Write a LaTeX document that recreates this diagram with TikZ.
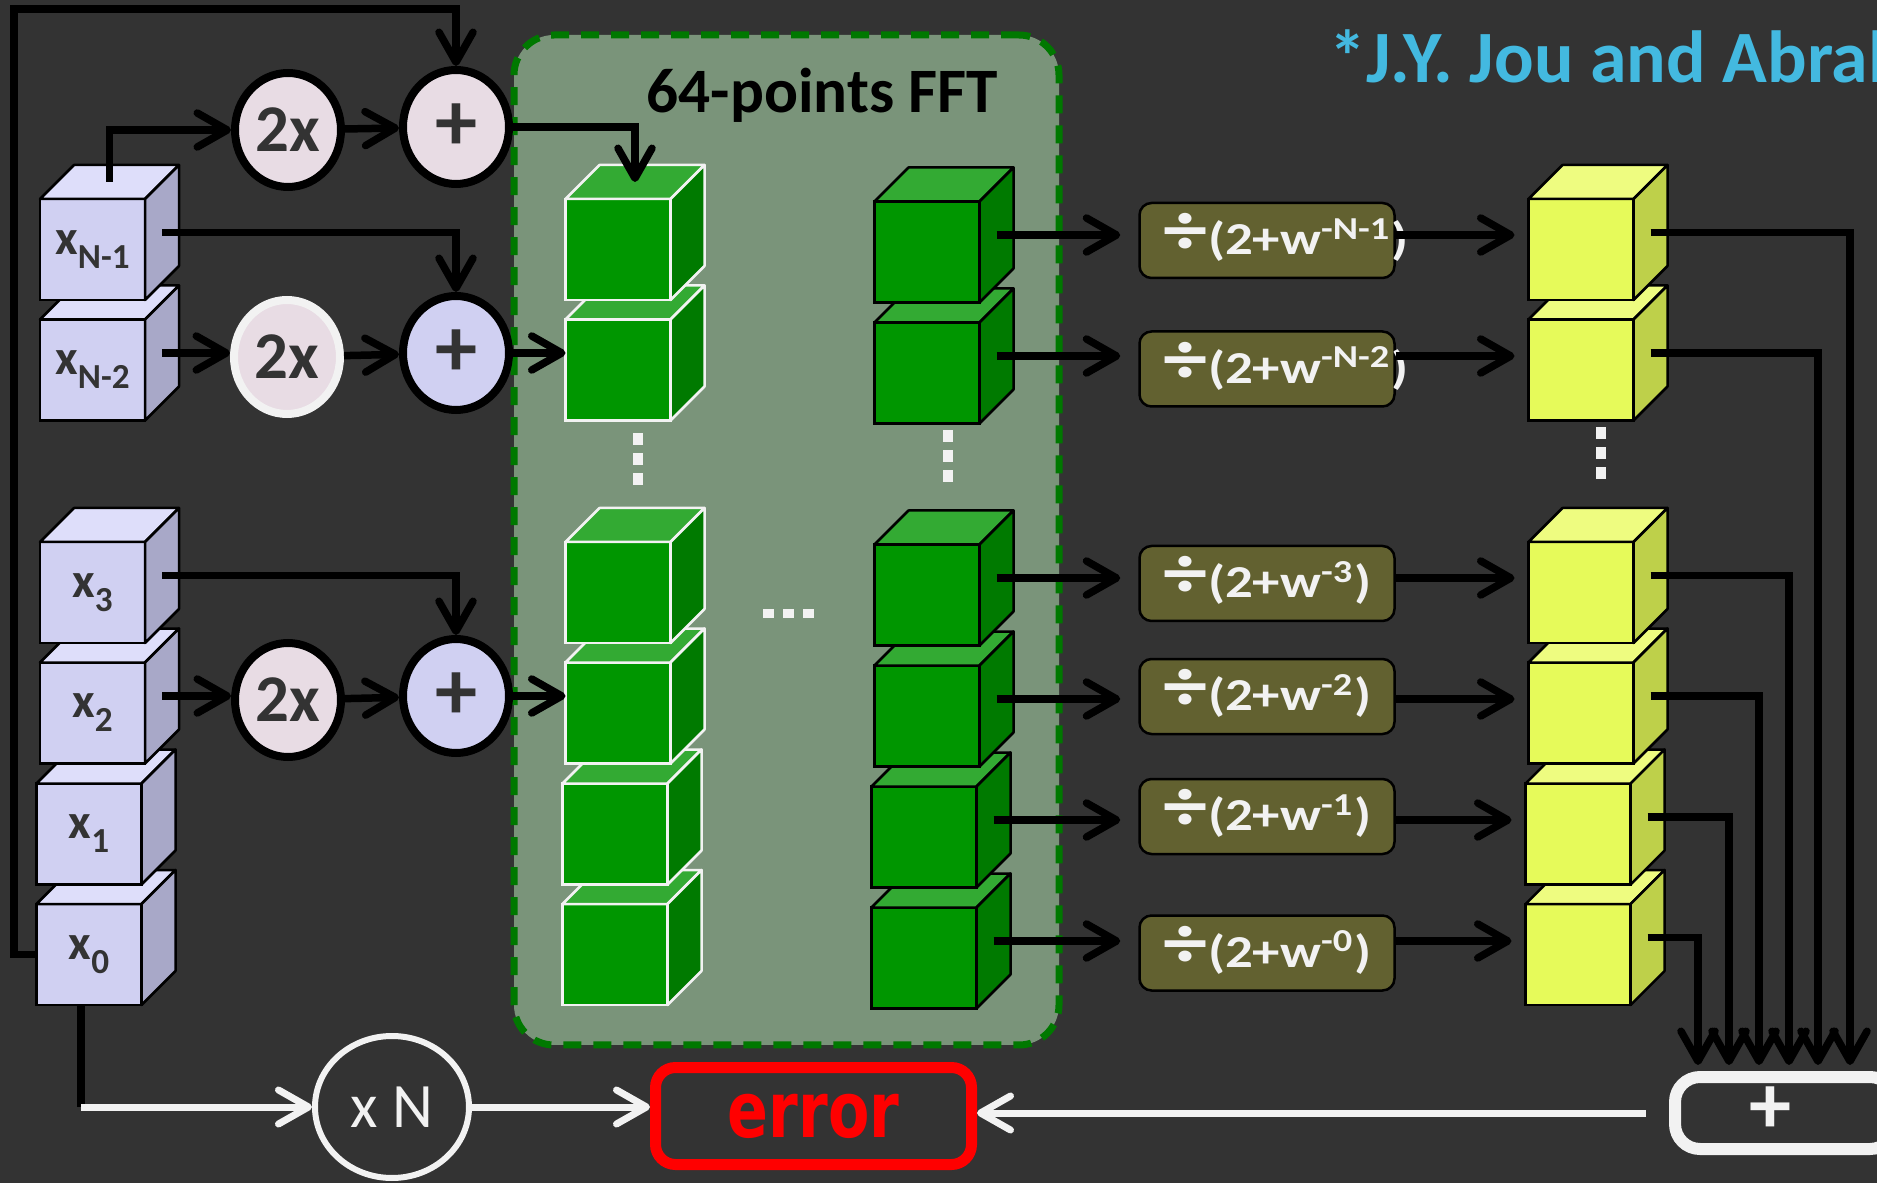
\documentclass[tikz,border=0pt]{standalone}
\usepackage{fontspec}
\setmainfont{Carlito}
\newfontfamily\dejavu{DejaVu Sans}
\usepackage{graphicx}
\usepackage{tikz}
\usetikzlibrary{arrows.meta,positioning,calc,shapes.geometric}
\definecolor{bgcol}{RGB}{51,51,51}
\definecolor{lavF}{RGB}{208,208,242}
\definecolor{lavT}{RGB}{222,222,250}
\definecolor{lavS}{RGB}{168,168,200}
\definecolor{grnF}{RGB}{0,150,0}
\definecolor{grnT}{RGB}{51,170,51}
\definecolor{grnS}{RGB}{0,122,0}
\definecolor{yelF}{RGB}{230,250,90}
\definecolor{yelT}{RGB}{238,252,128}
\definecolor{yelS}{RGB}{190,208,74}
\definecolor{pinkfill}{RGB}{232,220,228}
\definecolor{panelcol}{RGB}{122,148,122}
\definecolor{paneledge}{RGB}{0,120,0}
\definecolor{olive}{RGB}{98,97,48}
\definecolor{offwhite}{RGB}{242,242,242}
\definecolor{refblue}{RGB}{67,185,224}
\definecolor{inkgray}{RGB}{51,51,51}
\tikzset{
  cubeface/.style={rectangle, minimum width=10.5mm, minimum height=10.1mm, inner sep=0pt, outer sep=0pt,
    line width=0.25mm, text=inkgray, font=\bfseries\fontsize{14}{16}\selectfont},
  opnode/.style={ellipse, minimum width=10.6mm, minimum height=11.4mm, inner sep=0pt, line width=0.8mm,
    text=inkgray, font=\bfseries\fontsize{19}{22}\selectfont},
  addnode/.style={opnode, font=\bfseries\fontsize{24}{26}\selectfont},
  flow/.style={-{Straight Barb[length=3mm,width=3.4mm,line cap=round,line join=round]}, line width=0.75mm},
  wflow/.style={flow, line width=0.7mm, offwhite},
  panel/.style={rectangle, rounded corners=4mm, minimum width=54.5mm, minimum height=101mm,
    fill=panelcol, draw=paneledge, line width=0.7mm, dash pattern=on 1.8mm off 1.2mm},
  divbox/.style={rectangle, rounded corners=1.2mm, minimum width=25.5mm, minimum height=7.5mm,
    fill=olive, draw=black, line width=0.25mm},
  divlbl/.style={anchor=west, inner sep=0pt, text=offwhite, font=\bfseries\fontsize{13}{15}\selectfont},
}
\newcommand{\blockcube}[5]{%
  \node[cubeface, fill=#3F, draw=#4] (#1) at #2 {#5};
  \filldraw[fill=#3T, draw=#4, line width=0.25mm, line join=round]
    (#1.north west) -- ++(34,-34) -- ([shift={(34,-34)}]#1.north east) -- (#1.north east) -- cycle;
  \filldraw[fill=#3S, draw=#4, line width=0.25mm, line join=round]
    (#1.north east) -- ++(34,-34) -- ([shift={(34,-34)}]#1.south east) -- (#1.south east) -- cycle;
  \coordinate (#1-s) at ([shift={(17,-17)}]#1.east);
  \coordinate (#1-t) at ([shift={(17,-17)}]#1.north);
}
\newcommand{\lowsub}[1]{\raisebox{-1.4mm}{\fontsize{10}{12}\selectfont #1}}
\newcommand{\vdotsq}[1]{%
  \fill[offwhite] #1 ++(-5,0) rectangle ++(10,12);
  \fill[offwhite] #1 ++(-5,20) rectangle ++(10,12);
  \fill[offwhite] #1 ++(-5,40) rectangle ++(10,12);
}
\newcommand{\hdotsq}[1]{%
  \fill[offwhite] #1 rectangle ++(11,9);
  \fill[offwhite] #1 ++(20,0) rectangle ++(11,9);
  \fill[offwhite] #1 ++(40,0) rectangle ++(11,9);
}
\newcommand{\divtxt}[1]{\scalebox{1.2}[1]{{\fontsize{21}{21}\selectfont ÷}(2+w\textsuperscript{#1})}}

\begin{document}
\begin{tikzpicture}[x=0.1mm, y=-0.1mm]
    \useasboundingbox (0,0) rectangle (1877,1183);
    \clip (0,0) rectangle (1877,1183);
    \fill[bgcol] (0,0) rectangle (1877,1183);
    % FFT block
    \node[panel] (fft) at (786.5,540) {};
    \node[anchor=base west, inner sep=0pt, font=\bfseries\fontsize{18}{20}\selectfont] (fftlbl) at (646,113) {64-points FFT};
    \node[anchor=base west, inner sep=0pt, text=refblue, font=\bfseries\fontsize{21}{24}\selectfont] (ref) at (1329,83) {*J.Y. Jou and Abrah};
    % input samples
    \blockcube{x0}{(89,954.5)}{lav}{black}{x\lowsub{0}}
    \blockcube{x1}{(89,834)}{lav}{black}{x\lowsub{1}}
    \blockcube{x2}{(92.5,713)}{lav}{black}{x\lowsub{2}}
    \blockcube{x3}{(92.5,592.5)}{lav}{black}{x\lowsub{3}}
    \blockcube{xN2}{(92.5,370)}{lav}{black}{x\lowsub{N-2}}
    \blockcube{xN1}{(92.5,249.5)}{lav}{black}{x\lowsub{N-1}}
    % FFT inputs
    \blockcube{g6}{(615,954.5)}{grn}{offwhite}{}
    \blockcube{g5}{(615,834)}{grn}{offwhite}{}
    \blockcube{g4}{(618,713)}{grn}{offwhite}{}
    \blockcube{g3}{(618,592.5)}{grn}{offwhite}{}
    \blockcube{g2}{(618,370)}{grn}{offwhite}{}
    \blockcube{g1}{(618,249.5)}{grn}{offwhite}{}
    % FFT outputs
    \blockcube{h6}{(924,958)}{grn}{black}{}
    \blockcube{h5}{(924,837)}{grn}{black}{}
    \blockcube{h4}{(927,716)}{grn}{black}{}
    \blockcube{h3}{(927,595)}{grn}{black}{}
    \blockcube{h2}{(927,373)}{grn}{black}{}
    \blockcube{h1}{(927,252)}{grn}{black}{}
    % scaled outputs
    \blockcube{y6}{(1578,954.5)}{yel}{black}{}
    \blockcube{y5}{(1578,834)}{yel}{black}{}
    \blockcube{y4}{(1581,713)}{yel}{black}{}
    \blockcube{y3}{(1581,592.5)}{yel}{black}{}
    \blockcube{y2}{(1581,370)}{yel}{black}{}
    \blockcube{y1}{(1581,249.5)}{yel}{black}{}
    \vdotsq{(638,433)}
    \vdotsq{(948,430)}
    \vdotsq{(1601,427)}
    \hdotsq{(763,609)}
    % doubling and adding
    \node[opnode, fill=pinkfill, draw=black] (dbl1) at (288,130) {2x};
    \node[addnode, fill=pinkfill, draw=black] (add1) at (456,127) {+};
    \node[opnode, fill=pinkfill, draw=offwhite] (dbl2) at (287,357) {2x};
    \node[addnode, fill=lavF, draw=black] (add2) at (456,353) {+};
    \node[opnode, fill=pinkfill, draw=black] (dbl3) at (288,700) {2x};
    \node[addnode, fill=lavF, draw=black] (add3) at (456,696) {+};
    % divisions
    \node[divbox] (d1) at (1267,240.5) {};
    \node[divbox] (d2) at (1267,369) {};
    \node[divbox] (d3) at (1267,583.5) {};
    \node[divbox] (d4) at (1267,696.5) {};
    \node[divbox] (d5) at (1267,816.5) {};
    \node[divbox] (d6) at (1267,953) {};
    \node[divlbl] (d1l) at ([shift={(25,-3)}]d1.west) {\divtxt{-N-1}};
    \node[divlbl] (d2l) at ([shift={(25,-3)}]d2.west) {\divtxt{-N-2}};
    \node[divlbl] (d3l) at ([shift={(25,-3)}]d3.west) {\divtxt{-3}};
    \node[divlbl] (d4l) at ([shift={(25,-3)}]d4.west) {\divtxt{-2}};
    \node[divlbl] (d5l) at ([shift={(25,-3)}]d5.west) {\divtxt{-1}};
    \node[divlbl] (d6l) at ([shift={(25,-3)}]d6.west) {\divtxt{-0}};
    % bottom row
    \node[ellipse, minimum width=15.4mm, minimum height=14.2mm, inner sep=0pt, draw=offwhite, line width=0.6mm,
      text=offwhite, font=\fontsize{18}{21}\selectfont] (scaleN) at (392,1107) {x N};
    \node[rectangle, rounded corners=2mm, minimum width=31.6mm, minimum height=9.7mm, draw=red, line width=1.1mm,
      fill=bgcol, text=red, font=\dejavu\bfseries\fontsize{22}{24}\selectfont] (err) at (813.5,1116) {\scalebox{0.78}[1]{error}};
    \node[rectangle, rounded corners=2.5mm, minimum width=22mm, minimum height=7.2mm, draw=offwhite, line width=1.2mm]
      (sum) at (1785,1113) {};
    \node[text=offwhite, inner sep=0pt, font=\bfseries\fontsize{24}{26}\selectfont] (sumlbl) at (1770,1110) {+};
    % feedback of x0
    \coordinate (fbk) at (14,9);
    \draw[flow] (x0.west) -| (fbk) -| (add1);
    \draw[flow] (xN1-t) |- (dbl1);
    \draw[flow] (dbl1) -- (add1);
    \draw[flow] (add1) -| (g1-t);
    \draw[flow] (xN1-s) -| (add2);
    \draw[flow] (xN2-s) -- (xN2-s -| dbl2.west);
    \draw[flow] (dbl2) -- (add2);
    \draw[flow] (add2) -- (add2 -| g2.west);
    \draw[flow] (x3-s) -| (add3);
    \draw[flow] (x2-s) -- (x2-s -| dbl3.west);
    \draw[flow] (dbl3) -- (add3);
    \draw[flow] (add3) -- (add3 -| g4.west);
    % FFT outputs to divisions
    \draw[flow, shorten >=1.8mm] (h1-s) -- (h1-s -| d1.west);
    \draw[flow, shorten >=1.8mm] (h2-s) -- (h2-s -| d2.west);
    \draw[flow, shorten >=1.8mm] (h3-s) -- (h3-s -| d3.west);
    \draw[flow, shorten >=1.8mm] (h4-s) -- (h4-s -| d4.west);
    \draw[flow, shorten >=1.8mm] (h5-s) -- (h5-s -| d5.west);
    \draw[flow, shorten >=1.8mm] (h6-s) -- (h6-s -| d6.west);
    \draw[flow, shorten >=1.4mm] (h1-s -| d1.east) -- (h1-s -| y1.west);
    \draw[flow, shorten >=1.4mm] (h2-s -| d2.east) -- (h2-s -| y2.west);
    \draw[flow, shorten >=1.4mm] (h3-s -| d3.east) -- (h3-s -| y3.west);
    \draw[flow, shorten >=1.4mm] (h4-s -| d4.east) -- (h4-s -| y4.west);
    \draw[flow, shorten >=1.4mm] (h5-s -| d5.east) -- (h5-s -| y5.west);
    \draw[flow, shorten >=1.4mm] (h6-s -| d6.east) -- (h6-s -| y6.west);
    % sum of all terms
    \draw[flow, shorten >=0.6mm] (y1-s) -| ([shift={(65,0)}]sum.north);
    \draw[flow, shorten >=0.6mm] (y2-s) -| ([shift={(33,0)}]sum.north);
    \draw[flow, shorten >=0.6mm] (y3-s) -| ([shift={(4,0)}]sum.north);
    \draw[flow, shorten >=0.6mm] (y4-s) -| ([shift={(-26,0)}]sum.north);
    \draw[flow, shorten >=0.6mm] (y5-s) -| ([shift={(-56,0)}]sum.north);
    \draw[flow, shorten >=0.6mm] (y6-s) -| ([shift={(-87,0)}]sum.north);
    % error path
    \coordinate (x0b) at ([shift={(-8,0)}]x0.south);
    \coordinate (x0c) at (x0b |- scaleN);
    \draw[line width=0.75mm] (x0b) -- (x0c);
    \draw[wflow] (x0c) -- (scaleN);
    \draw[wflow] (scaleN) -- (scaleN -| err.west);
    \draw[wflow, shorten <=2.3mm] (sum.west) -- (sum.west -| err.east);
\end{tikzpicture}
\end{document}
